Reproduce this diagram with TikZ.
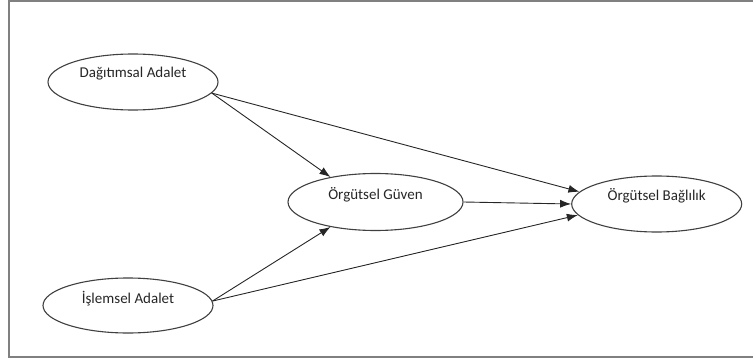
\documentclass[tikz,border=0pt]{standalone}
\usepackage{fontspec}
\setmainfont{Carlito}
\usetikzlibrary{shapes.geometric,arrows.meta}
\begin{document}
\begin{tikzpicture}[x=1pt,y=1pt,
  ell/.style={ellipse,draw=black!75,line width=1.1pt,fill=white,minimum width=170pt,minimum height=56pt,inner sep=0pt},
  lab/.style={font=\fontsize{15}{17}\selectfont,text=black!85,inner sep=0pt},
  conn/.style={draw=black!85,line width=0.9pt,-{Latex[length=11pt,width=8pt]}},
  frame/.style={draw=black!50,line width=2pt}]
\useasboundingbox (0,0) rectangle (753,-361);
\draw[frame] (753,-1.5) -- (8.5,-1.5) -- (8.5,-357) -- (753,-357);
\node[ell] (d) at (133,-82) {};
\node[ell,minimum width=175pt,minimum height=57pt] (g) at (375.5,-202) {};
\node[ell] (b) at (656.7,-204) {};
\node[ell,minimum height=55pt] (i) at (128,-305.5) {};
\node[lab] (dl) at ([yshift=8pt]d.center) {Dağıtımsal Adalet};
\node[lab] (gl) at ([yshift=7pt]g.center) {Örgütsel Güven};
\node[lab] (bl) at ([yshift=8pt]b.center) {Örgütsel Bağlılık};
\node[lab] (il) at ([yshift=7pt]i.center) {İşlemsel Adalet};
\draw[conn] (d.-8) -- (g.151);
\draw[conn] (d.-8) -- (b.171);
\draw[conn] (g.east) -- (b.west);
\draw[conn] (i.3) -- (g.209);
\draw[conn] (i.3) -- (b.188);
\end{tikzpicture}
\end{document}
